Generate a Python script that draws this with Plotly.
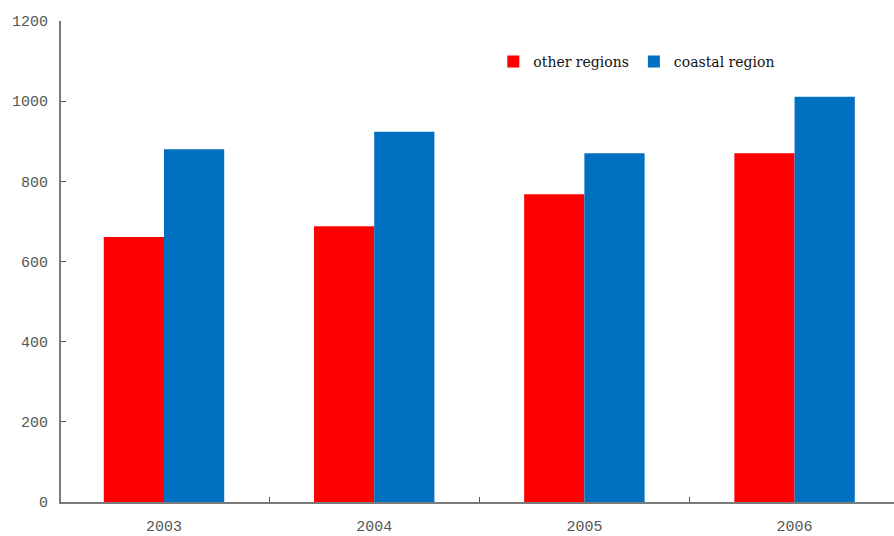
import plotly.graph_objects as go

years = ["2003", "2004", "2005", "2006"]
other_regions = [661, 688, 768, 870]
coastal_region = [880, 924, 870, 1011]
y_ticks = [0, 200, 400, 600, 800, 1000, 1200]

tick_font = dict(family="Liberation Mono", size=15, color="#555555")

fig = go.Figure()
fig.add_trace(go.Bar(name="other regions", x=years, y=other_regions, marker=dict(color="#FF0000", line=dict(width=0))))
fig.add_trace(go.Bar(name="coastal region", x=years, y=coastal_region, marker=dict(color="#0070C0", line=dict(width=0))))

fig.update_layout(
    width=894, height=536,
    margin=dict(l=61, r=0, t=21, b=32),
    paper_bgcolor="white", plot_bgcolor="white",
    barmode="group", bargap=0.427, bargroupgap=0,
    showlegend=True,
    legend=dict(orientation="h", x=0.519, y=0.915, xanchor="left", yanchor="middle",
                font=dict(family="DejaVu Serif", size=14, color="#111111"),
                itemwidth=30, tracegroupgap=0, bgcolor="rgba(0,0,0,0)"),
)
fig.update_xaxes(
    range=[-0.49, 3.473],
    showline=True, linecolor="#7a7a7a", linewidth=2,
    ticks="inside", ticklen=5, tickcolor="#555555", tickson="boundaries",
    tickfont=tick_font, ticklabelstandoff=9, showgrid=False,
)
fig.update_yaxes(
    range=[0, 1200], tickvals=y_ticks, showline=True, linecolor="#7a7a7a", linewidth=2,
    ticks="inside", ticklen=5, tickcolor="#555555",
    tickfont=tick_font, ticklabelstandoff=8, showgrid=False, zeroline=False,
)
fig.write_html("out.html")
